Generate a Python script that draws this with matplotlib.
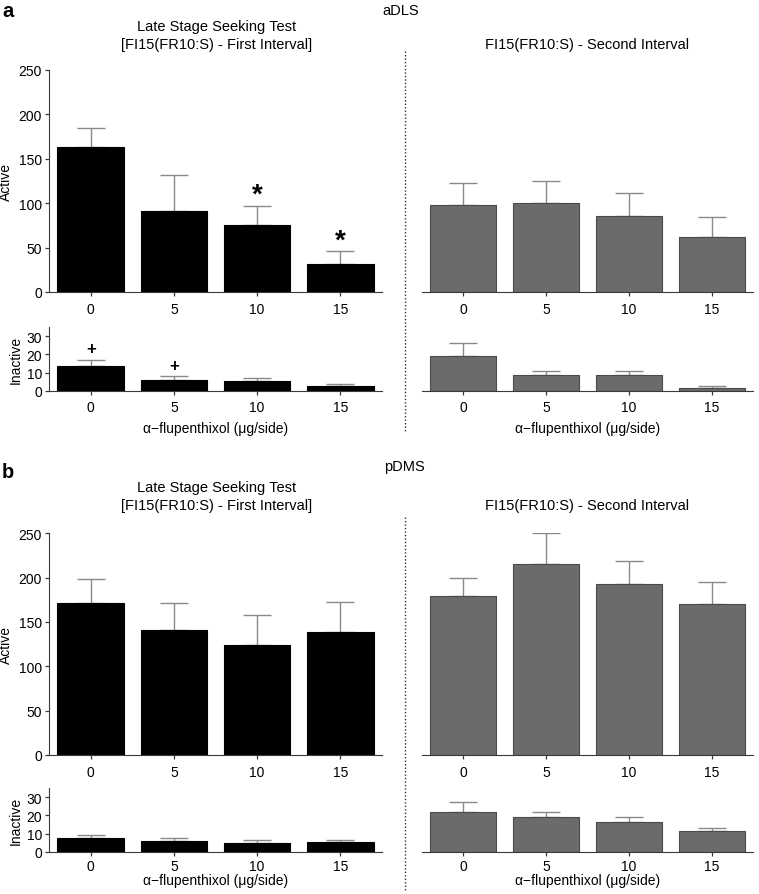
import numpy as np
import matplotlib
matplotlib.use('Agg')
import matplotlib.pyplot as plt
from matplotlib.lines import Line2D

plt.rcParams['font.family'] = ['Liberation Sans', 'DejaVu Sans']

doses = ['0', '5', '10', '15']

# aDLS
adls_first_active = [163, 91, 75, 32]
adls_first_active_err = [22, 41, 21.5, 14]
adls_second_active = [98, 100, 86, 62]
adls_second_active_err = [25, 25, 26, 22]
adls_first_inactive = [13.7, 5.9, 5.1, 2.4]
adls_first_inactive_err = [3.1, 2.3, 2.0, 1.3]
adls_second_inactive = [18.9, 8.8, 8.8, 1.6]
adls_second_inactive_err = [7.1, 2.2, 2.2, 1.0]
adls_stars = [None, None, 110, 58]
adls_plus = [23, 13.7, None, None]

# pDMS
pdms_first_active = [171, 141, 124, 139]
pdms_first_active_err = [27.5, 30, 34, 33]
pdms_second_active = [179, 215, 192.5, 170]
pdms_second_active_err = [21, 35, 26, 25]
pdms_first_inactive = [7.5, 6.1, 5.0, 5.2]
pdms_first_inactive_err = [1.9, 1.4, 1.6, 1.6]
pdms_second_inactive = [21.9, 19.0, 16.2, 11.4]
pdms_second_inactive_err = [5.5, 2.9, 2.8, 1.9]

W, H = 759, 895
fig = plt.figure(figsize=(W / 100, H / 100), dpi=100)

spine_col = '#3a3a3a'
err_col = '#8a8a8a'
fs = 10.5   # titles
tfs = 10    # tick labels
lfs = 10    # axis labels


def px(x0, y_top, x1, y_bot):
    return [x0 / W, 1 - y_bot / H, (x1 - x0) / W, (y_bot - y_top) / H]


def bars(ax, vals, errs, color, edge, ymax, yticks, left_axis, xpad=4):
    x = np.arange(len(vals))
    ax.bar(x, vals, width=0.8, color=color, edgecolor=edge, linewidth=0.8, zorder=2)
    ax.errorbar(x, vals, yerr=[np.zeros(len(errs)), errs], fmt='none',
                ecolor=err_col, elinewidth=1.0, capsize=10, capthick=1.0, zorder=1)
    ax.set_xlim(-0.5, 3.5)
    ax.set_ylim(0, ymax)
    ax.set_xticks(x)
    ax.set_xticklabels(doses, fontsize=tfs)
    for s in ['top', 'right']:
        ax.spines[s].set_visible(False)
    ax.spines['bottom'].set_color(spine_col)
    ax.spines['left'].set_color(spine_col)
    ax.tick_params(colors=spine_col, labelcolor='black', length=3, width=0.9)
    ax.tick_params(axis='x', pad=xpad)
    if left_axis:
        ax.set_yticks(yticks)
        ax.tick_params(axis='y', labelsize=tfs, pad=2)
    else:
        ax.spines['left'].set_visible(False)
        ax.set_yticks([])


rows = [
    # (active y top, active y bottom, inactive top, inactive bottom, tick pad, label pad, data)
    (71, 293, 328, 391.7, 4, 5,
     adls_first_active, adls_first_active_err, adls_second_active, adls_second_active_err,
     adls_first_inactive, adls_first_inactive_err, adls_second_inactive, adls_second_inactive_err),
    (534.3, 756, 789, 853, 2, 0,
     pdms_first_active, pdms_first_active_err, pdms_second_active, pdms_second_active_err,
     pdms_first_inactive, pdms_first_inactive_err, pdms_second_inactive, pdms_second_inactive_err),
]

xlab = 'α\u2212flupenthixol (μg/side)'
axes = []
for r in rows:
    at, ab, it, ib, tpad, lpad, fa, fae, sa, sae, fi, fie, si, sie = r
    ax1 = fig.add_axes(px(49, at, 382, ab))
    bars(ax1, fa, fae, 'black', 'black', 250, [0, 50, 100, 150, 200, 250], True)
    ax1.set_ylabel('Active', fontsize=lfs, labelpad=4)
    ax2 = fig.add_axes(px(422, at, 753, ab))
    bars(ax2, sa, sae, '#6b6b6b', '#4a4a4a', 250, [], False)
    ax3 = fig.add_axes(px(49, it, 382, ib))
    bars(ax3, fi, fie, 'black', 'black', 35, [0, 10, 20, 30], True, xpad=tpad)
    ax3.set_ylabel('Inactive', fontsize=lfs, labelpad=3)
    ax3.set_xlabel(xlab, fontsize=lfs, labelpad=lpad)
    ax4 = fig.add_axes(px(422, it, 753, ib))
    bars(ax4, si, sie, '#6b6b6b', '#4a4a4a', 35, [], False, xpad=tpad)
    ax4.set_xlabel(xlab, fontsize=lfs, labelpad=lpad)
    axes.append((ax1, ax2, ax3, ax4))

# significance markers
a1, _, a3, _ = axes[0]
for i, v in enumerate(adls_stars):
    if v is not None:
        a1.text(i, v, '*', ha='center', va='center', fontsize=20, fontweight='bold')
for i, v in enumerate(adls_plus):
    if v is not None:
        a3.text(i, v, '+', ha='center', va='center', fontsize=12, fontweight='bold')

# panel letters, region labels, titles
fig.text(2 / W, 1 - 17 / H, 'a', fontsize=14.5, fontweight='bold', va='baseline')
fig.text(2 / W, 1 - 478 / H, 'b', fontsize=14.5, fontweight='bold', va='baseline')
fig.text(382 / W, 1 - 11 / H, 'aDLS', fontsize=fs, va='center')
fig.text(384 / W, 1 - 467 / H, 'pDMS', fontsize=fs, va='center')

for y1, y2 in [(27, 45), (488, 506)]:
    fig.text(217 / W, 1 - y1 / H, 'Late Stage Seeking Test', fontsize=fs, ha='center', va='center')
    fig.text(217 / W, 1 - y2 / H, '[FI15(FR10:S) - First Interval]', fontsize=fs, ha='center', va='center')
    fig.text(587 / W, 1 - y2 / H, 'FI15(FR10:S) - Second Interval', fontsize=fs, ha='center', va='center')

# dotted separators
for y0, y1 in [(52, 432), (518, 893)]:
    fig.add_artist(Line2D([405 / W, 405 / W], [1 - y0 / H, 1 - y1 / H],
                          transform=fig.transFigure, color='#333333', lw=1.0, linestyle=(0, (1, 1.5))))

fig.savefig('out.png', dpi=100)
